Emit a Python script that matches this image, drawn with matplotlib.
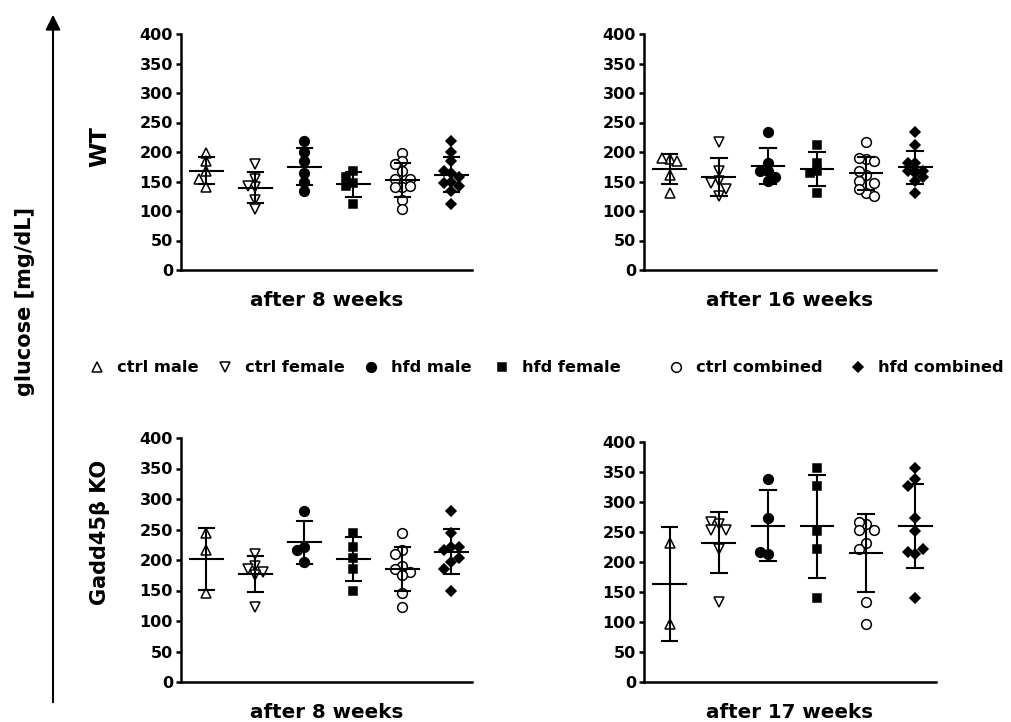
import numpy as np
import matplotlib
matplotlib.use("Agg")
import matplotlib.pyplot as plt
from matplotlib.lines import Line2D
from matplotlib.patches import FancyArrowPatch

plt.rcParams["font.family"] = ["DejaVu Sans"]
plt.rcParams["font.weight"] = "bold"

groups = ["ctrl male", "ctrl female", "hfd male", "hfd female",
          "ctrl combined", "hfd combined"]

# glucose [mg/dL] per animal -- WT, after 8 weeks
wt8_ctrl_male = [198, 184, 167, 154, 140]
wt8_ctrl_female = [180, 154, 140, 142, 119, 103]
wt8_hfd_male = [219, 200, 184, 165, 150, 134]
wt8_hfd_female = [168, 158, 147, 143, 112]

# WT, after 16 weeks
wt16_ctrl_male = [188, 190, 184, 161, 131]
wt16_ctrl_female = [217, 167, 151, 147, 138, 126]
wt16_hfd_male = [234, 181, 167, 167, 157, 151]
wt16_hfd_female = [212, 181, 167, 164, 131]

# Gadd45b KO, after 8 weeks
ko8_ctrl_male = [244, 216, 146]
ko8_ctrl_female = [210, 190, 185, 180, 175, 123]
ko8_hfd_male = [280, 222, 216, 197]
ko8_hfd_female = [245, 222, 203, 185, 150]

# Gadd45b KO, after 17 weeks
ko17_ctrl_male = [231, 96]
ko17_ctrl_female = [264, 266, 253, 253, 222, 133]
ko17_hfd_male = [339, 274, 214, 216]
ko17_hfd_female = [356, 326, 252, 222, 140]

panel_titles = ["after 8 weeks", "after 16 weeks", "after 8 weeks", "after 17 weeks"]
row_labels = ["WT", "Gadd45\u03b2 KO"]
y_ticks = [0, 50, 100, 150, 200, 250, 300, 350, 400]

W, H, DPI = 1011, 722, 100
fig = plt.figure(figsize=(W / DPI, H / DPI), dpi=DPI)

# marker style per group: (marker, filled, size in pt)
styles = [("^", False, 7.0), ("v", False, 7.0), ("o", True, 7.0),
          ("s", True, 6.3), ("o", False, 7.0), ("D", True, 4.6)]


def px_axes(left, top, right, bottom):
    return fig.add_axes([left / W, 1 - bottom / H, (right - left) / W, (bottom - top) / H])


def swarm_offsets(values, px_per_x, px_per_y, diameter=8.0, step=7.5):
    """Side-by-side placement of points with close values (max one step each side)."""
    placed = []
    offsets = []
    cands = [0.0, -step, step]
    for v in values:
        y = v * px_per_y
        best, best_d = 0.0, -1.0
        for c in cands:
            d = min([np.hypot(c - px, y - py) for px, py in placed] or [1e9])
            if d >= diameter:
                best = c
                break
            if d > best_d:
                best, best_d = c, d
        placed.append((best, y))
        offsets.append(best / px_per_x)
    return np.array(offsets)


XLIM = (-0.52, 5.42)


def draw_panel(ax, male_c, female_c, male_h, female_h, title):
    sets = [male_c, female_c, male_h, female_h, male_c + female_c, male_h + female_h]
    bbox = ax.get_position()
    px_per_x = bbox.width * W / (XLIM[1] - XLIM[0])
    px_per_y = bbox.height * H / 400.0
    for i, (vals, (mk, filled, ms)) in enumerate(zip(sets, styles)):
        vals = np.asarray(vals, dtype=float)
        offs = swarm_offsets(vals, px_per_x, px_per_y)
        ax.plot(i + offs, vals, linestyle="none", marker=mk, markersize=ms,
                markerfacecolor="black" if filled else "white",
                markeredgecolor="black", markeredgewidth=1.1, zorder=2)
        m = vals.mean()
        sd = vals.std(ddof=1)
        lw = 1.5
        ax.plot([i - 0.33, i + 0.33], [m, m], color="black", lw=lw, zorder=3)
        ax.plot([i, i], [m - sd, m + sd], color="black", lw=lw, zorder=3)
        for yv in (m - sd, m + sd):
            ax.plot([i - 0.16, i + 0.16], [yv, yv], color="black", lw=lw, zorder=3)
    ax.set_xlim(*XLIM)
    ax.set_ylim(0, 400)
    ax.set_yticks(y_ticks)
    ax.set_yticklabels([str(t) for t in y_ticks], fontsize=11.5, fontweight="bold")
    ax.set_xticks([])
    for s in ("top", "right"):
        ax.spines[s].set_visible(False)
    for s in ("left", "bottom"):
        ax.spines[s].set_linewidth(1.8)
    ax.tick_params(axis="y", direction="out", length=3.8, width=1.8, pad=2)
    ax.annotate(title, xy=(0.5, 0), xycoords="axes fraction", xytext=(0, -30),
                textcoords="offset pixels", ha="center", va="center",
                fontsize=14.3, fontweight="bold")


ax_tl = px_axes(181, 34, 472, 270)
ax_tr = px_axes(644, 34, 936, 270)
ax_bl = px_axes(181, 438, 472, 682)
ax_br = px_axes(644, 442, 936, 682)

draw_panel(ax_tl, wt8_ctrl_male, wt8_ctrl_female, wt8_hfd_male, wt8_hfd_female, panel_titles[0])
draw_panel(ax_tr, wt16_ctrl_male, wt16_ctrl_female, wt16_hfd_male, wt16_hfd_female, panel_titles[1])
draw_panel(ax_bl, ko8_ctrl_male, ko8_ctrl_female, ko8_hfd_male, ko8_hfd_female, panel_titles[2])
draw_panel(ax_br, ko17_ctrl_male, ko17_ctrl_female, ko17_hfd_male, ko17_hfd_female, panel_titles[3])


def ftext(x, y, s, **kw):
    fig.text(x / W, 1 - y / H, s, **kw)


# row labels and shared y label
ftext(100, 147, row_labels[0], rotation=90, ha="center", va="center", fontsize=16.5, fontweight="bold")
ftext(100, 532, row_labels[1], rotation=90, ha="center", va="center", fontsize=15, fontweight="bold")
ftext(25, 302, "glucose [mg/dL]", rotation=90, ha="center", va="center", fontsize=15, fontweight="bold")

fig.add_artist(FancyArrowPatch((53 / W, 1 - 705 / H), (53 / W, 1 - 12 / H),
                               transform=fig.transFigure,
                               arrowstyle="-|>,head_length=0.9,head_width=0.45",
                               mutation_scale=10, lw=1.5, color="black"))

# legend row
leg_marker_x = [97, 225, 371, 502, 676, 858]
leg_y = 367
for (mk, filled, ms), label, mx in zip(styles, groups, leg_marker_x):
    fig.add_artist(Line2D([mx / W], [1 - leg_y / H], transform=fig.transFigure,
                          linestyle="none", marker=mk, markersize=ms,
                          markerfacecolor="black" if filled else "white",
                          markeredgecolor="black", markeredgewidth=1.1))
    ftext(mx + 20, leg_y, label, ha="left", va="center", fontsize=11.7, fontweight="bold")

fig.savefig("out.png", dpi=DPI)
